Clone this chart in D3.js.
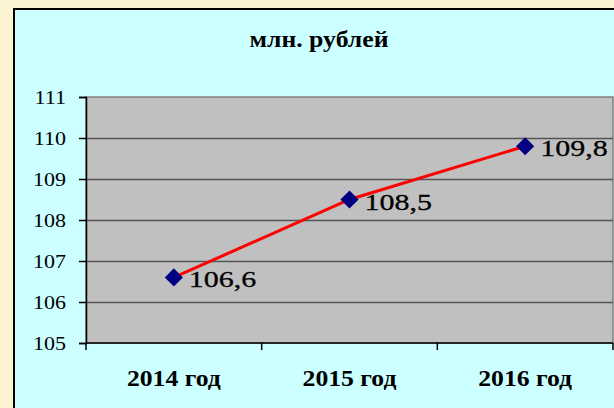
<!DOCTYPE html>
<html><head><meta charset="utf-8">
<script src="https://cdn.jsdelivr.net/npm/d3@7"></script>
<style>html,body{margin:0;padding:0;background:#FAF4D2;} svg{display:block;}</style>
</head><body>
<svg id="c" width="614" height="408"></svg>
<script>
const categories = ["2014 год", "2015 год", "2016 год"];
const values = [106.6, 108.5, 109.8];
const valueLabels = ["106,6", "108,5", "109,8"];
const yTicks = [105, 106, 107, 108, 109, 110, 111];
const title = "млн. рублей";

const FONT = '"Liberation Serif","Times New Roman",serif';
const svg = d3.select("#c");
const W = 614, H = 408;
const plot = {left: 86, top: 97, right: 613, bottom: 343};

// panel
svg.append("rect").attr("x", 14).attr("y", 9).attr("width", W).attr("height", H)
  .attr("fill", "#CCFFFF").attr("stroke", "#000").attr("stroke-width", 2);

const x = d3.scaleBand().domain(categories).range([plot.left, plot.right]).padding(0);
const y = d3.scaleLinear().domain([105, 111]).range([plot.bottom, plot.top]);

// plot background
svg.append("rect").attr("x", plot.left).attr("y", plot.top)
  .attr("width", plot.right - plot.left).attr("height", plot.bottom - plot.top)
  .attr("fill", "#C0C0C0").attr("stroke", "#808080").attr("stroke-width", 1.5);

// gridlines
svg.append("g").selectAll("line").data(yTicks.slice(1, -1)).join("line")
  .attr("x1", plot.left).attr("x2", plot.right)
  .attr("y1", d => Math.round(y(d)) + 0.5).attr("y2", d => Math.round(y(d)) + 0.5)
  .attr("stroke", "#555").attr("stroke-width", 1.5);

// y axis
const yAxis = d3.axisLeft(y).tickValues(yTicks).tickSize(7).tickPadding(12).tickFormat(d3.format("d"));
const gy = svg.append("g").attr("transform", `translate(${plot.left},0)`).call(yAxis);
gy.attr("font-family", null);
gy.select(".domain").attr("stroke", "#000").attr("stroke-width", 1.5);
gy.selectAll(".tick line").attr("stroke", "#000").attr("stroke-width", 1.5);
gy.selectAll(".tick text").style("font-family", FONT)
  .attr("font-size", 19.5).attr("fill", "#000")
  .attr("transform", "scale(1.13,1)").attr("x", -20/1.13);

// x axis with ticks at band boundaries
svg.append("line").attr("x1", plot.left).attr("x2", plot.right)
  .attr("y1", plot.bottom).attr("y2", plot.bottom).attr("stroke", "#000").attr("stroke-width", 1.5);
const bounds = categories.map(c => x(c)).concat([plot.right]);
svg.append("g").selectAll("line").data(bounds).join("line")
  .attr("x1", d => d).attr("x2", d => d).attr("y1", plot.bottom).attr("y2", plot.bottom + 7)
  .attr("stroke", "#000").attr("stroke-width", 1.5);
svg.append("g").selectAll("text").data(categories).join("text")
  .attr("transform", d => `translate(${x(d) + x.bandwidth()/2},386) scale(1.07,1)`)
  .attr("text-anchor", "middle")
  .style("font-family", FONT)
  .attr("font-weight", "bold").attr("font-size", 24).attr("fill", "#000")
  .text(d => d);

// title
svg.append("text").attr("transform", "translate(319,47) scale(1.12,1)")
  .attr("text-anchor", "middle")
  .style("font-family", FONT)
  .attr("font-weight", "bold").attr("font-size", 23).attr("fill", "#000").text(title);

// line
const pts = categories.map((c, i) => [x(c) + x.bandwidth()/2, y(values[i])]);
svg.append("path").attr("d", d3.line()(pts)).attr("fill", "none")
  .attr("stroke", "#FF0000").attr("stroke-width", 3);

// markers
svg.append("g").selectAll("path").data(pts).join("path")
  .attr("transform", d => `translate(${d[0]},${d[1]})`)
  .attr("d", d3.symbol().type(d3.symbolDiamond2).size(210)())
  .attr("fill", "#000080");

// labels
svg.append("g").selectAll("text").data(pts).join("text")
  .attr("transform", d => `translate(${d[0] + 15},${d[1] + 10}) scale(1.25,1)`)
  .style("font-family", FONT)
  .attr("font-size", 24).attr("fill", "#000")
  .attr("stroke", "#000").attr("stroke-width", 0.3)
  .text((d, i) => valueLabels[i]);
</script>
</body></html>
